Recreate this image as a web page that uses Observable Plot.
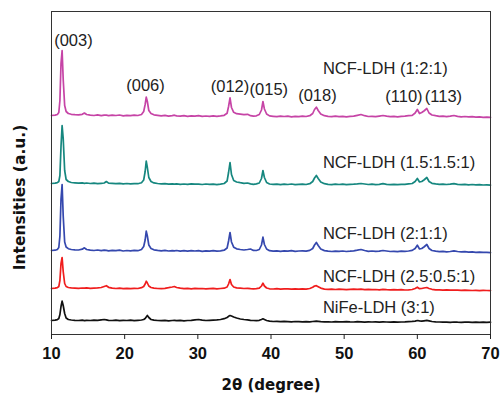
<!DOCTYPE html>
<html>
<head>
<meta charset="utf-8">
<script src="https://cdn.jsdelivr.net/npm/d3@7"></script>
<script src="https://cdn.jsdelivr.net/npm/@observablehq/plot@0.6"></script>
<style>
  html, body { margin: 0; padding: 0; background: #fff; }
  #chart svg { display: block; }
</style>
</head>
<body>
<div id="chart"></div>
<script>
// 2θ sampling positions (degrees), grouped by region
const twoTheta = [
  10.0, 10.5, 10.8, 11.0, 11.15, 11.3, 11.45, 11.6, 11.8, 12.0, 12.3, 12.7,
  13.2, 13.7, 14.2, 14.5, 14.8, 15.3, 15.8, 16.3, 16.8, 17.2, 17.5, 17.8, 18.3, 18.8, 19.3, 19.8, 20.3, 20.8, 21.3, 21.8, 22.3,
  22.6, 22.8, 22.95, 23.1, 23.3, 23.6, 24.0, 24.5,
  25.0, 25.5, 26.0, 26.5, 26.8, 27.1, 27.6, 28.1, 28.6, 29.1, 29.6, 30.1, 30.6, 31.1, 31.6, 32.1, 32.6, 33.1, 33.6,
  34.0, 34.2, 34.4, 34.6, 34.9, 35.3, 35.8, 36.3, 36.8, 37.2, 37.6, 38.0, 38.4, 38.7, 38.9, 39.1, 39.4, 39.8,
  40.3, 40.8, 41.3, 41.8, 42.3, 42.8, 43.3, 43.8, 44.3, 44.8, 45.3,
  45.7, 45.95, 46.2, 46.45, 46.8, 47.3,
  47.8, 48.3, 48.8, 49.3, 49.8, 50.3, 50.8, 51.3, 51.8, 52.3, 52.8, 53.3, 53.8, 54.3, 54.8, 55.3, 55.8, 56.3, 56.8, 57.3, 57.8, 58.3, 58.8, 59.3,
  59.7, 60.0, 60.3, 60.6, 60.9, 61.3, 61.6, 62.0, 62.5,
  63.0, 63.5, 64.0, 64.5, 65.0, 65.5, 66.0, 66.5, 67.0, 67.5, 68.0, 68.5, 69.0, 69.5, 70.0
];

// Intensity of each pattern above its own baseline (a.u.)
const ncf121 = [
  100, 140, 200, 400, 1600, 5300, 6600, 3700, 1100, 500, 300, 220,
  180, 160, 220, 350, 200, 140, 100, 160, 80, 140, 130, 90, 140, 100, 150, 70, 120, 80, 130, 100, 200,
  500, 1200, 1930, 1500, 600, 300, 170, 120,
  60, 110, 40, 90, 130, 60, 40, 90, 20, 70, 40, 90, 20, 50, 10, 60, 20, 60, 120,
  330, 1000, 1870, 900, 420, 280, 230, 180, 220, 80, 30, 70, 200, 650, 1500, 750, 250, 60,
  20, -20, 40, 0, 30, -30, 20, -10, 40, 0, 80,
  300, 700, 930, 600, 250, 80,
  20, -20, 30, -10, 20, -30, 10, 40, 120, 200, 80, 0, 20, -20, 40, 100, 30, -20, 10, -30, 20, 30, 80, 120,
  350, 700, 300, 400, 550, 800, 350, 150, 80,
  20, 40, -10, 30, 100, 20, -30, 0, -40, -20, -60, -40, -80, -60, -90
];
const ncf151 = [
  100, 130, 180, 300, 900, 3800, 5900, 4600, 1400, 500, 300, 200,
  170, 140, 160, 120, 150, 100, 130, 90, 120, 150, 300, 140, 110, 80, 120, 70, 100, 60, 90, 80, 180,
  450, 1300, 2330, 1700, 700, 300, 160, 100,
  60, 90, 40, 70, 30, 60, 20, 50, 10, 60, 30, 40, 0, 50, 20, 40, -10, 30, 100,
  350, 1200, 2200, 1000, 400, 250, 180, 120, 150, 60, 20, 60, 150, 600, 1400, 700, 200, 50,
  10, 40, -20, 30, 0, 50, -10, 20, 40, 0, 80,
  300, 650, 900, 600, 250, 80,
  20, -10, 30, 0, 40, -20, 10, 30, 60, 100, 50, 0, 30, -10, 20, 80, 20, -20, 10, -20, 20, 10, 60, 100,
  300, 600, 250, 300, 450, 700, 300, 120, 60,
  10, 40, 0, 30, 80, 20, -20, 10, -30, 0, -40, -20, -50, -40, -60
];
const ncf211 = [
  50, 80, 150, 350, 1500, 5200, 6650, 3500, 900, 400, 230, 150,
  120, 100, 180, 320, 150, 80, 50, 100, 30, 80, 60, 20, 70, 30, 80, 0, 50, 20, 60, 30, 150,
  450, 1100, 1980, 1500, 600, 250, 120, 60,
  20, 60, 0, 40, 10, 50, -20, 30, -10, 40, 0, 30, -30, 20, -10, 30, -20, 20, 80,
  300, 1000, 1850, 900, 380, 220, 150, 100, 150, 200, 60, 50, 150, 600, 1380, 650, 200, 30,
  -20, 20, -30, 10, -20, 30, -30, 0, 20, -20, 60,
  250, 600, 850, 550, 200, 40,
  -20, -50, -10, -40, 0, -50, -20, 20, 80, 150, 50, -30, 0, -40, -10, 50, 0, -50, -30, -60, -20, -40, 0, 60,
  250, 580, 200, 250, 400, 650, 250, 50, -20,
  -60, -30, -80, -50, 20, -50, -90, -70, -110, -90, -130, -110, -140, -130, -160
];
const ncf2505 = [
  0, 30, 80, 200, 800, 2500, 3100, 1700, 500, 200, 100, 60,
  40, 20, 50, 30, 60, 20, 40, 60, 100, 200, 280, 120, 40, 0, 30, -10, 20, -20, 10, 0, 80,
  200, 450, 730, 550, 250, 100, 40, 0,
  -20, 20, 80, 150, 200, 100, 30, -10, 20, -30, 10, -20, 0, -40, -10, 20, -30, 0, 30,
  150, 450, 900, 400, 150, 60, 30, 0, 20, -20, -30, -10, 40, 250, 530, 250, 50, -30,
  -50, -20, -60, -30, -40, -70, -40, -60, -30, -60, 0,
  120, 250, 280, 180, 40, -60,
  -80, -60, -100, -70, -90, -110, -80, -60, -90, -70, -110, -90, -120, -100, -130, -90, -120, -140, -110, -130, -120, -150, -130, -100,
  0, 130, -20, 0, 50, 100, 0, -80, -130,
  -140, -160, -130, -170, -150, -160, -190, -170, -180, -200, -190, -210, -190, -200, -210
];
const nife31 = [
  0, 30, 80, 200, 600, 1400, 1930, 1500, 700, 250, 100, 50,
  20, 0, 30, -10, 20, 0, 30, 10, 60, 100, 60, 20, 0, 30, -10, 20, 0, 30, -10, 20, 50,
  100, 200, 350, 500, 300, 100, 30, 0,
  -20, 10, -30, 0, 20, -20, 10, -30, 0, 20, 60, 100, 40, 0, 20, 40, 60, 100, 180,
  300, 420, 500, 450, 350, 250, 150, 100, 60, 20, 0, -20, 20, 100, 170, 100, 0, -60,
  -100, -80, -120, -90, -110, -130, -100, -120, -140, -110, -130,
  -100, -80, -70, -90, -120, -140,
  -130, -150, -120, -140, -130, -110, -140, -150, -120, -140, -160, -130, -150, -140, -160, -130, -150, -170, -140, -160, -150, -140, -110, -90,
  -60, 0, -40, -60, -30, 10, -30, -100, -130,
  -150, -170, -160, -180, -150, -170, -180, -160, -170, -190, -170, -180, -170, -180, -170
];

const sampleNames = ["NCF-LDH (1:2:1)", "NCF-LDH (1.5:1.5:1)", "NCF-LDH (2:1:1)", "NCF-LDH (2.5:0.5:1)", "NiFe-LDH (3:1)"];
const sampleColors = ["#c644a6", "#16877f", "#3548ae", "#f01d1d", "#111111"];
const sampleOffsets = [21800, 15000, 8350, 4600, 1400];
const sampleIntensities = [ncf121, ncf151, ncf211, ncf2505, nife31];

// Where each sample's name sits (2θ, a.u.)
const nameX = [47.1, 47.1, 47.1, 47.1, 47.1];
const nameY = [26600, 17200, 10100, 5800, 2700];

// Miller-index labels over the reflections
const hklLabels = ["(003)", "(006)", "(012)", "(015)", "(018)", "(110)", "(113)"];
const hklX = [13.0, 22.85, 34.4, 39.7, 46.35, 58.17, 63.57];
const hklY = [29400, 24900, 24730, 24470, 23900, 23730, 23730];

const xTicks = [10, 20, 30, 40, 50, 60, 70];

const rows = sampleNames.flatMap((name, i) =>
  twoTheta.map((t, j) => ({sample: name, t, I: sampleIntensities[i][j] + sampleOffsets[i]}))
);
const names = sampleNames.map((name, i) => ({name, x: nameX[i], y: nameY[i]}));
const hkl = hklLabels.map((label, i) => ({label, x: hklX[i], y: hklY[i]}));

const bold = "DejaVu Sans, sans-serif";
const regular = "Liberation Sans, Arial, sans-serif";

const chart = Plot.plot({
  width: 501,
  height: 396,
  marginLeft: 51,
  marginRight: 11,
  marginTop: 11,
  marginBottom: 62,
  style: {background: "#fff", color: "#111"},
  x: {domain: [10, 70]},
  y: {domain: [0, 32300], axis: null},
  color: {domain: sampleNames, range: sampleColors},
  marks: [
    Plot.line(rows, {x: "t", y: "I", z: "sample", stroke: "sample", strokeWidth: 1.7, curve: "linear"}),
    Plot.frame({stroke: "#333", strokeWidth: 1}),
    Plot.axisX({ticks: xTicks, tickSize: 5, tickPadding: 8, tickFormat: d3.format("d"), fontSize: 16.5, fontFamily: regular, label: null, stroke: "#222", fill: "#111"}),
    Plot.text(names, {x: "x", y: "y", text: "name", textAnchor: "start", fontSize: 16.5, fontFamily: regular, fill: "#222"}),
    Plot.text(hkl, {x: "x", y: "y", text: "label", textAnchor: "middle", fontSize: 16.5, fontFamily: regular, fill: "#222"}),
    Plot.text(["2θ (degree)"], {frameAnchor: "bottom", textAnchor: "middle", dy: 55, fontSize: 15, fontWeight: "bold", fontFamily: bold, fill: "#111"}),
    Plot.text(["Intensities (a.u.)"], {frameAnchor: "left", textAnchor: "middle", dx: -31, dy: 24.5, rotate: -90, fontSize: 15.5, fontWeight: "bold", fontFamily: bold, fill: "#111"})
  ]
});
// tick numbers are set in bold
d3.select(chart).selectAll('g[aria-label="x-axis tick label"]').attr("font-weight", "bold")
  .selectAll("text").attr("font-weight", "bold");
document.getElementById("chart").append(chart);
</script>
</body>
</html>
